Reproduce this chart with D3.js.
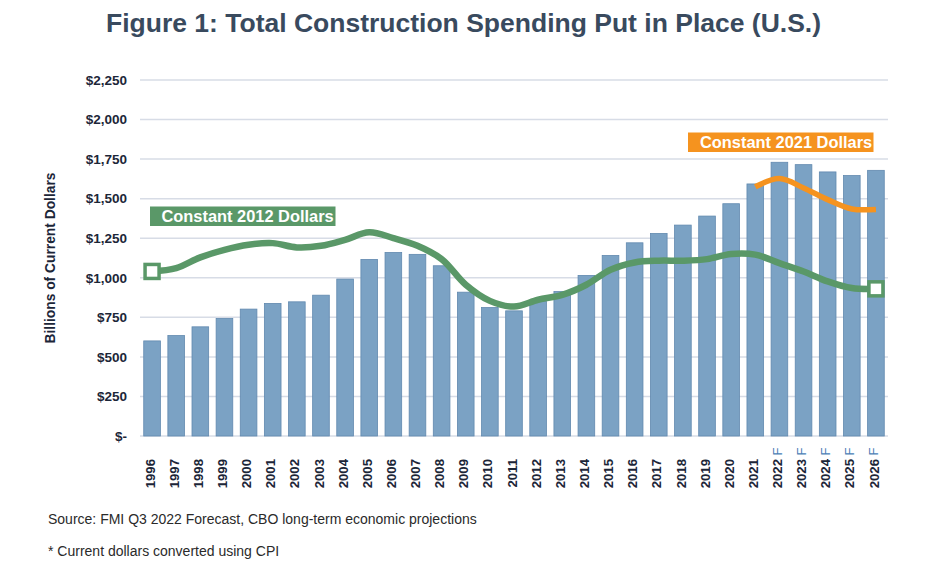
<!DOCTYPE html>
<html>
<head>
<meta charset="utf-8">
<script src="https://cdn.jsdelivr.net/npm/d3@7"></script>
<style>
  html, body { margin: 0; padding: 0; background: #ffffff; }
  svg { display: block; font-family: "Liberation Sans", Arial, sans-serif; }
</style>
</head>
<body>
<svg id="chart" width="933" height="568"></svg>
<script>
// ---- data ----
const years = ["1996","1997","1998","1999","2000","2001","2002","2003","2004","2005",
  "2006","2007","2008","2009","2010","2011","2012","2013","2014","2015",
  "2016","2017","2018","2019","2020","2021","2022","2023","2024","2025","2026"];
const forecastYears = ["2022","2023","2024","2025","2026"];
const currentDollars = [601,635,690,743,802,838,848,890,992,1116,
  1160,1148,1076,909,812,791,850,913,1015,1141,
  1221,1280,1333,1390,1468,1593,1730,1715,1669,1646,1679];
const constant2012 = [1040,1061,1129,1177,1209,1219,1192,1202,1240,1287,
  1251,1202,1118,956,854,818,861,892,956,1051,
  1097,1108,1108,1118,1150,1146,1093,1040,977,935,930];
const constant2021Years = ["2021","2022","2023","2024","2025","2026"];
const constant2021 = [1575,1627,1568,1494,1435,1432];
const yTicks = [0,250,500,750,1000,1250,1500,1750,2000,2250];

const title = "Figure 1: Total Construction Spending Put in Place (U.S.)";
const yTitle = "Billions of Current Dollars";
const label2012 = "Constant 2012 Dollars";
const label2021 = "Constant 2021 Dollars";
const source = "Source: FMI Q3 2022 Forecast, CBO long-term economic projections";
const note = "* Current dollars converted using CPI";

// ---- layout ----
const svg = d3.select("#chart");
const x = d3.scaleBand().domain(years).range([140, 888]).paddingInner(0.31).paddingOuter(0.155);
const y = d3.scaleLinear().domain([0, 2250]).range([436, 80]);
const cx = d => x(d) + x.bandwidth() / 2;

const green = "#5a9868";
const orange = "#f5931f";
const barFill = "#7ba2c4";
const barStroke = "#6189af";
const textDark = "#1c2638";

// title
svg.append("text")
  .attr("x", 463.5).attr("y", 32)
  .attr("text-anchor", "middle")
  .attr("font-size", 26.5).attr("font-weight", "bold")
  .attr("fill", "#394a5e")
  .text(title);

// gridlines
svg.append("g").selectAll("line").data(yTicks).join("line")
  .attr("x1", 140).attr("x2", 888)
  .attr("y1", d => y(d)).attr("y2", d => y(d))
  .attr("stroke", "#d7dce6").attr("stroke-width", 1.5);

// y axis labels via d3 axis
const yAxis = d3.axisLeft(y).tickValues(yTicks).tickSize(0).tickPadding(0)
  .tickFormat(d => d === 0 ? "$-" : "$" + d3.format(",")(d));
const yg = svg.append("g").attr("transform", "translate(127,0)").call(yAxis);
yg.select(".domain").remove();
yg.selectAll("text")
  .attr("font-family", "Liberation Sans, Arial, sans-serif")
  .attr("font-size", 13.5).attr("font-weight", "bold").attr("fill", textDark);

// y title
svg.append("text")
  .attr("transform", "translate(55,258) rotate(-90)")
  .attr("text-anchor", "middle")
  .attr("font-size", 13.8).attr("font-weight", "bold").attr("fill", textDark)
  .text(yTitle);

// bars
svg.append("g").selectAll("rect").data(years).join("rect")
  .attr("x", d => x(d))
  .attr("width", x.bandwidth())
  .attr("y", (d, i) => y(currentDollars[i]))
  .attr("height", (d, i) => y(0) - y(currentDollars[i]))
  .attr("fill", barFill).attr("stroke", barStroke).attr("stroke-width", 0.8);

// x labels
const xl = svg.append("g");
years.forEach(yr => {
  xl.append("text")
    .attr("transform", `translate(${cx(yr) - 2},459) rotate(-90)`)
    .attr("text-anchor", "end").attr("dy", "0.35em")
    .attr("font-size", 13.2).attr("font-weight", "bold").attr("fill", textDark)
    .text(yr);
  if (forecastYears.includes(yr)) {
    xl.append("text")
      .attr("transform", `translate(${cx(yr) - 2},455.5) rotate(-90)`)
      .attr("text-anchor", "start").attr("dy", "0.35em")
      .attr("font-size", 13).attr("fill", "#4c80b6")
      .text("F");
  }
});

// lines
const line = d3.line().curve(d3.curveCatmullRom.alpha(0.5));
svg.append("path")
  .attr("d", line(years.map((yr, i) => [cx(yr), y(constant2012[i])])))
  .attr("fill", "none").attr("stroke", green).attr("stroke-width", 6.5)
  .attr("stroke-linejoin", "round");
svg.append("path")
  .attr("d", line(constant2021Years.map((yr, i) => [cx(yr), y(constant2021[i])])))
  .attr("fill", "none").attr("stroke", orange).attr("stroke-width", 5.5)
  .attr("stroke-linejoin", "round");

// end markers for green line
const ends = [0, years.length - 1];
svg.append("g").selectAll("rect").data(ends).join("rect")
  .attr("x", i => cx(years[i]) - 7)
  .attr("y", i => y(constant2012[i]) - 7)
  .attr("width", 14).attr("height", 14)
  .attr("fill", "#ffffff").attr("stroke", green).attr("stroke-width", 3.5);

// series labels
function labelBox(x0, x1, yTop, h, fill, tx, txt) {
  svg.append("rect").attr("x", x0).attr("y", yTop).attr("width", x1 - x0).attr("height", h).attr("fill", fill);
  svg.append("text").attr("x", tx).attr("y", yTop + h / 2).attr("dy", "0.36em")
    .attr("font-size", 16.4).attr("font-weight", "bold").attr("fill", "#ffffff")
    .text(txt);
}
labelBox(150, 335.5, 206.5, 19.5, green, 161.5, label2012);
labelBox(688, 873.5, 132.5, 19.5, orange, 700, label2021);

// footnotes
svg.append("text").attr("x", 48).attr("y", 524)
  .attr("font-size", 14).attr("fill", "#2a2a2a").text(source);
svg.append("text").attr("x", 48).attr("y", 556)
  .attr("font-size", 14).attr("fill", "#2a2a2a").text(note);
</script>
</body>
</html>
